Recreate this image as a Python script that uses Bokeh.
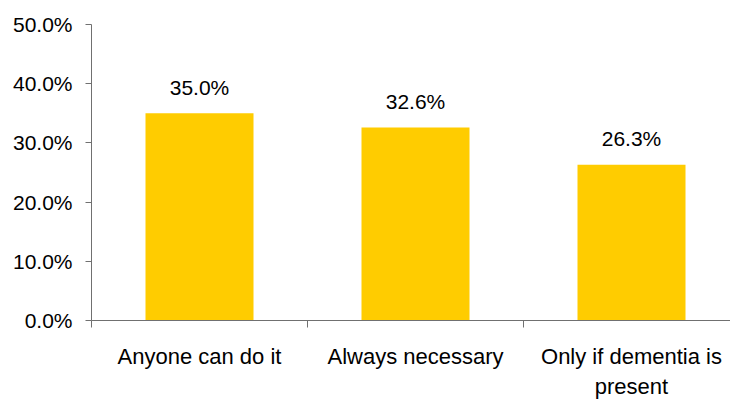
from bokeh.plotting import figure
from bokeh.models import Range1d, FixedTicker, NumeralTickFormatter, ColumnDataSource
from bokeh.core.properties import value
from bokeh.embed import file_html
from bokeh.resources import INLINE

categories = ["Anyone can do it", "Always necessary", "Only if dementia is\npresent"]
values = [0.350, 0.326, 0.263]
value_labels = ["35.0%", "32.6%", "26.3%"]
y_ticks = [0.0, 0.1, 0.2, 0.3, 0.4, 0.5]

FONT = "Liberation Sans"
FS = "21px"
FSX = "22px"

positions = [i + 0.5 for i in range(len(categories))]
src = ColumnDataSource(dict(x=positions, top=values, label=value_labels))

p = figure(width=730, height=401, output_backend="svg", toolbar_location=None,
           x_range=Range1d(0, 639 / 216), y_range=Range1d(0, 0.5),
           min_border_left=91, min_border_right=0, min_border_top=24, min_border_bottom=80)
p.outline_line_color = None
p.xgrid.grid_line_color = None
p.ygrid.grid_line_color = None
p.background_fill_color = "white"
p.border_fill_color = "white"

p.vbar(x="x", top="top", width=0.5, bottom=0, source=src,
       fill_color="#FFCC00", line_color=None)
p.text(x="x", y="top", text="label", source=src, y_offset=-26,
       text_align="center", text_baseline="alphabetic",
       text_font=value(FONT), text_font_size=FS, text_color="#000000")

# y axis
p.yaxis.ticker = FixedTicker(ticks=y_ticks)
p.yaxis.formatter = NumeralTickFormatter(format="0.0%")
p.yaxis.axis_line_color = "#707070"
p.yaxis.major_tick_line_color = "#707070"
p.yaxis.major_tick_out = 6
p.yaxis.major_tick_in = 0
p.yaxis.minor_tick_line_color = None
p.yaxis.major_label_standoff = 13
p.yaxis.major_label_text_font = FONT
p.yaxis.major_label_text_font_size = FS
p.yaxis.major_label_text_color = "#000000"

# x axis
p.xaxis.ticker = FixedTicker(ticks=positions, minor_ticks=[0, 1, 2, 3])
p.xaxis.major_label_overrides = {pos: c for pos, c in zip(positions, categories)}
p.xaxis.axis_line_color = "#707070"
p.xaxis.major_tick_line_color = None
p.xaxis.major_tick_out = 0
p.xaxis.major_tick_in = 0
p.xaxis.minor_tick_line_color = "#707070"
p.xaxis.minor_tick_out = 7
p.xaxis.minor_tick_in = 0
p.xaxis.major_label_standoff = 16
p.xaxis.major_label_text_font = FONT
p.xaxis.major_label_text_font_size = FSX
p.xaxis.major_label_text_color = "#000000"
p.xaxis.major_label_text_align = "center"

open("out.html", "w").write(file_html(p, INLINE))
